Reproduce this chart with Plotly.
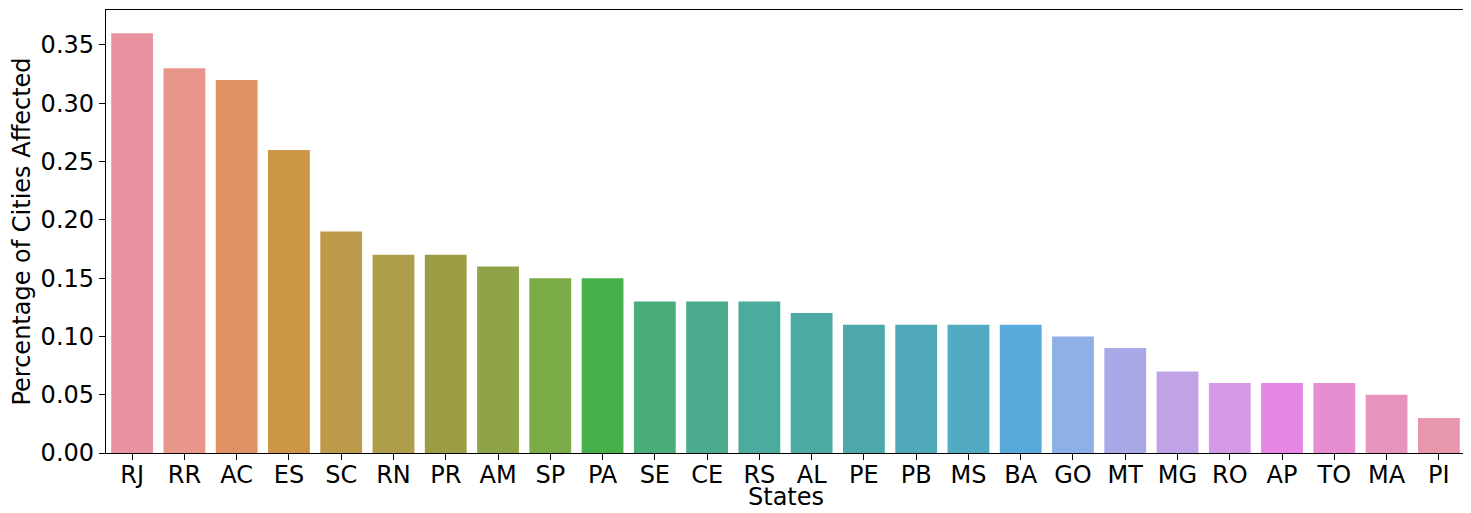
import plotly.graph_objects as go

# Share of cities affected per state
states = ['RJ', 'RR', 'AC', 'ES', 'SC', 'RN', 'PR', 'AM', 'SP', 'PA', 'SE', 'CE', 'RS',
          'AL', 'PE', 'PB', 'MS', 'BA', 'GO', 'MT', 'MG', 'RO', 'AP', 'TO', 'MA', 'PI']
pct_affected = [0.36, 0.33, 0.32, 0.26, 0.19, 0.17, 0.17, 0.16, 0.15, 0.15, 0.13, 0.13, 0.13,
                0.12, 0.11, 0.11, 0.11, 0.11, 0.10, 0.09, 0.07, 0.06, 0.06, 0.06, 0.05, 0.03]
y_ticks = [0.00, 0.05, 0.10, 0.15, 0.20, 0.25, 0.30, 0.35]

# seaborn-like husl colours, one per bar
bar_colors = ['#e8939f', '#e8968a', '#e09264', '#cd9647', '#bd9a4a', '#ae9e4b', '#9e9c45',
              '#8fa446', '#7aab47', '#47b04b', '#4aad7a', '#4aab8e', '#4aab9e', '#4caaa5',
              '#4fa9ab', '#50a9b8', '#52aac3', '#57aadb', '#8fb0e6', '#aaa9e8', '#bfa3e6',
              '#d49ae6', '#e687e6', '#e68ed0', '#e793c0', '#e796ac']

fig = go.Figure()
fig.add_trace(go.Bar(x=states, y=pct_affected, marker_color=bar_colors,
                     marker_line_width=0, width=0.8))

# the page has an 8px body margin, so the figure is sized to sit inside it
font = dict(family='DejaVu Sans', size=24, color='black')
fig.update_layout(
    width=1460, height=505,
    margin=dict(l=98, r=3, t=2, b=60, autoexpand=False),
    paper_bgcolor='white', plot_bgcolor='white',
    font=font, showlegend=False,
    bargap=0.2,
)
# right-hand spine
fig.add_shape(type='line', xref='paper', yref='paper', x0=1, x1=1, y0=0, y1=1,
              line=dict(color='black', width=1.3))
# x title as an annotation so it sits clear of the tick labels
fig.add_annotation(text='States', xref='paper', yref='paper', x=0.5, y=0,
                   yshift=-44, yanchor='middle', showarrow=False, font=font)
fig.update_xaxes(range=[-0.5, 25.5], showline=True, linecolor='black', linewidth=1.3,
                 mirror=True, ticks='outside', ticklen=6, tickcolor='black',
                 ticklabelstandoff=-6,
                 showgrid=False, tickfont=font)
fig.update_yaxes(title=dict(text='Percentage of Cities Affected', font=font, standoff=8),
                 range=[0, 0.38], tickvals=y_ticks, tickformat='.2f',
                 showline=True, linecolor='black', linewidth=1.3, mirror=True,
                 ticks='outside', ticklen=6, tickcolor='black', showgrid=False,
                 zeroline=False, tickfont=font)

fig.write_html("out.html")
